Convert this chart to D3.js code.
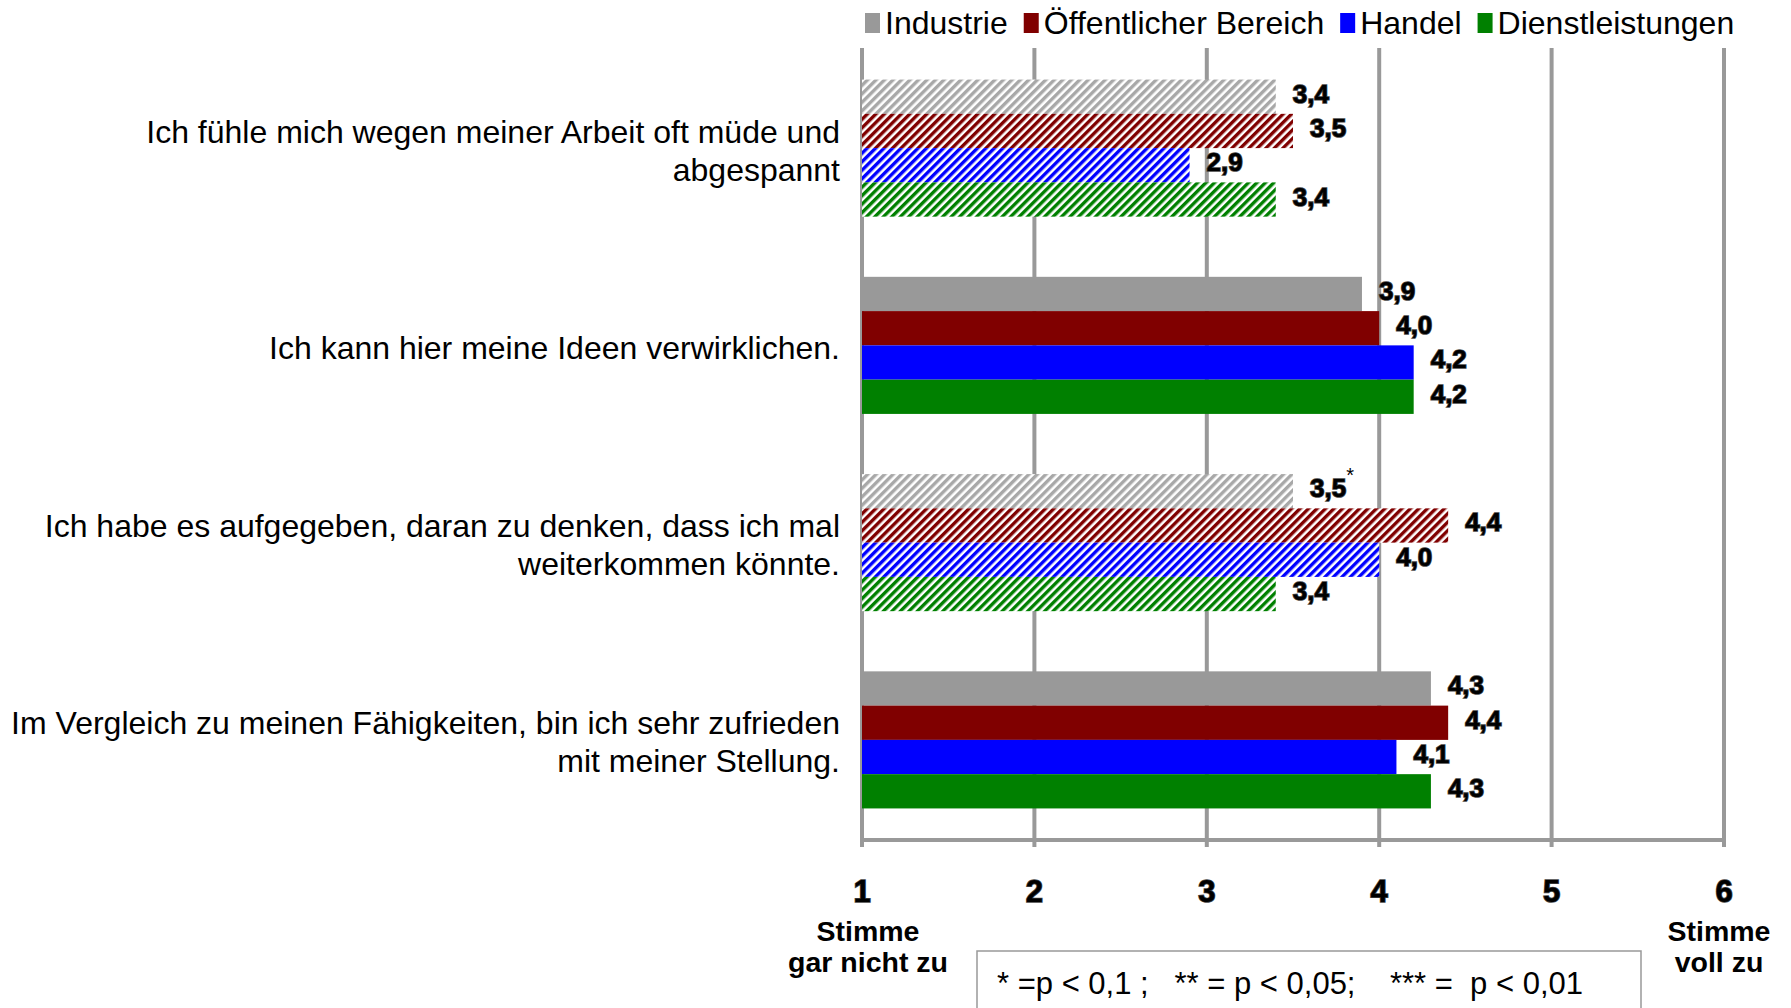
<!DOCTYPE html>
<html>
<head>
<meta charset="utf-8">
<script src="https://cdn.jsdelivr.net/npm/d3@7"></script>
<style>
  html, body { margin: 0; padding: 0; background: #fff; }
  svg { display: block; font-family: "Liberation Sans", Arial, sans-serif; }
</style>
</head>
<body>
<svg id="chart" width="1791" height="1008"></svg>
<script>
// ---- data ----
const categories = [
  ["Ich fühle mich wegen meiner Arbeit oft müde und", "abgespannt"],
  ["Ich kann hier meine Ideen verwirklichen."],
  ["Ich habe es aufgegeben, daran zu denken, dass ich mal", "weiterkommen könnte."],
  ["Im Vergleich zu meinen Fähigkeiten, bin ich sehr zufrieden", "mit meiner Stellung."]
];
const seriesNames = ["Industrie", "Öffentlicher Bereich", "Handel", "Dienstleistungen"];
const industrie   = [3.4, 3.9, 3.5, 4.3];
const oeffentlich = [3.5, 4.0, 4.4, 4.4];
const handel      = [2.9, 4.2, 4.0, 4.1];
const dienst      = [3.4, 4.2, 3.4, 4.3];
const industrieSig   = ["", "", "*", ""];
const oeffentlichSig = ["", "", "", ""];
const handelSig      = ["", "", "", ""];
const dienstSig      = ["", "", "", ""];
const hatchedCategory = [true, false, true, false];
const tickValues = [1, 2, 3, 4, 5, 6];
const tickLabels = ["1", "2", "3", "4", "5", "6"];
const leftEndLabel = ["Stimme", "gar nicht zu"];
const rightEndLabel = ["Stimme", "voll zu"];
const footnote = "* =p < 0,1 ;   ** = p < 0,05;    *** =  p < 0,01";

const seriesValues = [industrie, oeffentlich, handel, dienst];
const seriesSig = [industrieSig, oeffentlichSig, handelSig, dienstSig];
const solidColors = ["#999999", "#800000", "#0000ff", "#008000"];
const hatchColors = ["#a8a8a8", "#800000", "#0000ff", "#008000"];

// ---- layout ----
const svg = d3.select("#chart");
const plotTop = 48, plotBottom = 840;
const x = d3.scaleLinear().domain([1, 6]).range([862, 1724]);
const y = d3.scaleBand().domain(d3.range(categories.length))
  .range([plotTop, plotBottom]).paddingInner(0.305).paddingOuter(0.16);
const ys = d3.scaleBand().domain(d3.range(seriesNames.length)).range([0, y.bandwidth()]);

// patterns
const defs = svg.append("defs");
hatchColors.forEach((c, i) => {
  const p = defs.append("pattern")
    .attr("id", "hatch" + i)
    .attr("patternUnits", "userSpaceOnUse")
    .attr("width", 6).attr("height", 6)
    .attr("patternTransform", "rotate(45)");
  p.append("rect").attr("width", 6).attr("height", 6).attr("fill", "#fff");
  p.append("rect").attr("x", 0).attr("width", 3.4).attr("height", 6).attr("fill", c);
});

// gridlines
svg.append("g").selectAll("line").data(tickValues).join("line")
  .attr("x1", d => x(d)).attr("x2", d => x(d))
  .attr("y1", plotTop).attr("y2", plotBottom + 7)
  .attr("stroke", "#999").attr("stroke-width", 4);
svg.append("line")
  .attr("x1", x(1) - 2).attr("x2", x(6) + 2)
  .attr("y1", plotBottom).attr("y2", plotBottom)
  .attr("stroke", "#999").attr("stroke-width", 4);

// bars
const groups = svg.append("g").selectAll("g").data(categories).join("g")
  .attr("transform", (d, i) => `translate(0,${y(i)})`);

groups.each(function(cat, ci) {
  const g = d3.select(this);
  seriesNames.forEach((s, si) => {
    const v = seriesValues[si][ci];
    g.append("rect")
      .attr("x", x(1))
      .attr("y", ys(si))
      .attr("width", x(v) - x(1))
      .attr("height", ys.bandwidth())
      .attr("fill", hatchedCategory[ci] ? `url(#hatch${si})` : solidColors[si]);
    const t = g.append("text")
      .attr("x", x(v) + 17)
      .attr("y", ys(si) + ys.bandwidth() / 2 - 3)
      .attr("dominant-baseline", "central")
      .attr("font-size", 26).attr("font-weight", "bold")
      .attr("fill", "#000").attr("stroke", "#444").attr("stroke-width", 1.6)
      .attr("paint-order", "stroke");
    t.append("tspan").text(d3.format(".1f")(v).replace(".", ","));
    if (seriesSig[si][ci]) {
      t.append("tspan").attr("dy", -13).attr("font-size", 20)
        .attr("font-weight", "normal").attr("stroke", "none")
        .text(seriesSig[si][ci]);
    }
  });
});

// category labels
groups.each(function(lines, ci) {
  const g = d3.select(this);
  const lh = 38;
  const cy = y.bandwidth() / 2 + 2;
  const t = g.append("text")
    .attr("text-anchor", "end")
    .attr("font-size", 32)
    .attr("fill", "#000");
  lines.forEach((l, li) => {
    t.append("tspan")
      .attr("x", 840)
      .attr("y", cy + (li - (lines.length - 1) / 2) * lh)
      .attr("dy", "0.36em")
      .text(l);
  });
});

// tick labels
svg.append("g").selectAll("text").data(tickValues).join("text")
  .attr("x", d => x(d)).attr("y", 891)
  .attr("text-anchor", "middle").attr("dominant-baseline", "central")
  .attr("font-size", 31).attr("font-weight", "bold")
  .attr("fill", "#000").attr("stroke", "#444").attr("stroke-width", 1.6)
  .attr("paint-order", "stroke")
  .text((d, i) => tickLabels[i]);

function endLabel(lines, cx) {
  const t = svg.append("text").attr("text-anchor", "middle")
    .attr("font-size", 28.5).attr("font-weight", "bold").attr("fill", "#000");
  lines.forEach((l, li) => {
    t.append("tspan").attr("x", cx).attr("y", 931 + li * 31)
      .attr("dominant-baseline", "central").text(l);
  });
}
endLabel(leftEndLabel, x(1) + 6);
endLabel(rightEndLabel, x(6) - 5);

// footnote box
svg.append("rect").attr("x", 977).attr("y", 951).attr("width", 664).attr("height", 70)
  .attr("fill", "none").attr("stroke", "#999").attr("stroke-width", 1.5);
svg.append("text").attr("x", 997).attr("y", 983)
  .attr("dominant-baseline", "central")
  .attr("font-size", 31).attr("fill", "#000")
  .style("white-space", "pre")
  .text(footnote);

// legend
const legend = svg.append("g");
let lx = 865;
seriesNames.forEach((s, i) => {
  legend.append("rect").attr("x", lx).attr("y", 13).attr("width", 15).attr("height", 20)
    .attr("fill", solidColors[i]);
  const t = legend.append("text").attr("x", lx + 20).attr("y", 23)
    .attr("dominant-baseline", "central").attr("font-size", 32).attr("fill", "#000")
    .text(s);
  lx += 20 + t.node().getComputedTextLength() + 16;
});
</script>
</body>
</html>
